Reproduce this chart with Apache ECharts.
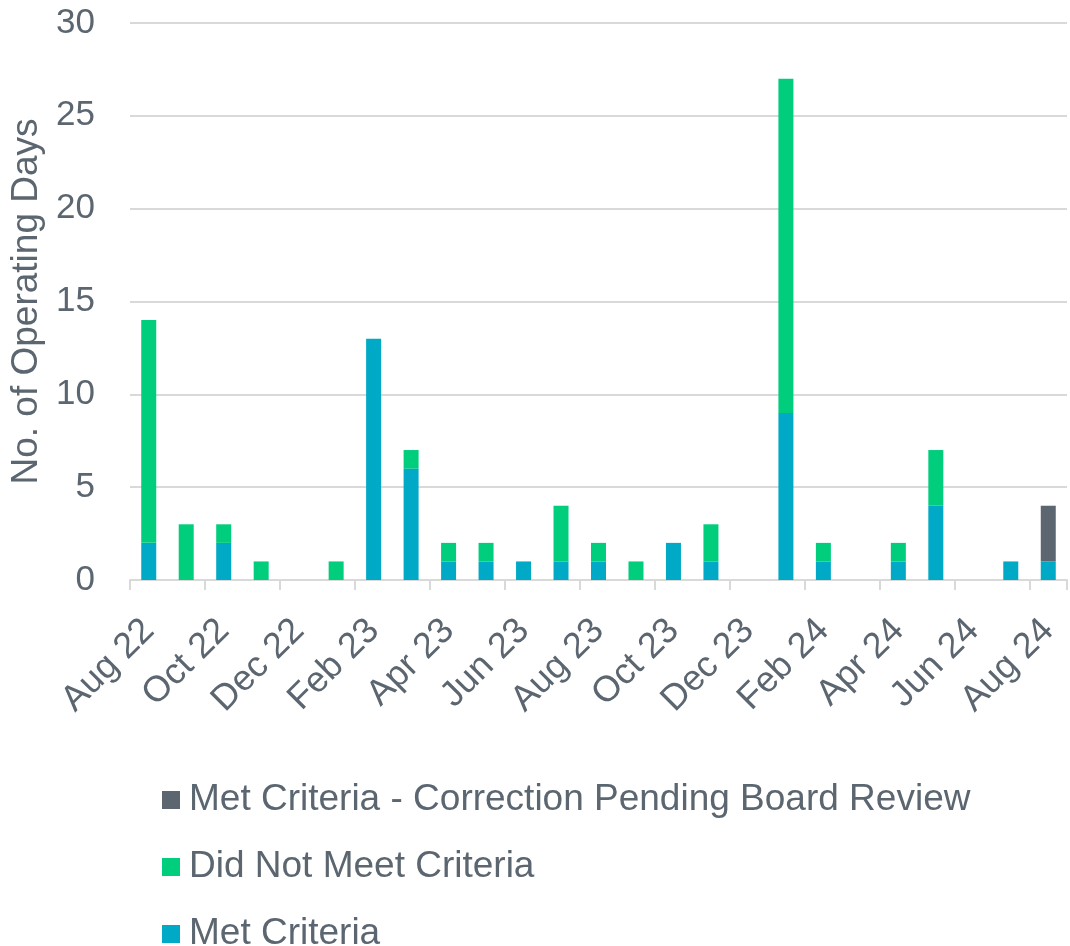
<!DOCTYPE html>
<html>
<head>
<meta charset="utf-8">
<title>Operating Days</title>
<script src="https://cdn.jsdelivr.net/npm/echarts@6/dist/echarts.min.js"></script>
<style>
  html, body { margin: 0; padding: 0; background: #fff; }
  #chart { width: 1070px; height: 946px; }
</style>
</head>
<body>
<div id="chart"></div>
<script>
// one bar per month
const months = ['Aug 22', 'Sep 22', 'Oct 22', 'Nov 22', 'Dec 22', 'Jan 23', 'Feb 23', 'Mar 23', 'Apr 23',
  'May 23', 'Jun 23', 'Jul 23', 'Aug 23', 'Sep 23', 'Oct 23', 'Nov 23', 'Dec 23', 'Jan 24', 'Feb 24',
  'Mar 24', 'Apr 24', 'May 24', 'Jun 24', 'Jul 24', 'Aug 24']

const metCriteria = [2, 0, 2, 0, 0, 0, 13, 6, 1, 1, 1, 1, 1, 0, 2, 1, 0, 9, 1, 0, 1, 4, 0, 1, 1]
const didNotMeet = [12, 3, 1, 1, 0, 1, 0, 1, 1, 1, 0, 3, 1, 1, 0, 2, 0, 18, 1, 0, 1, 3, 0, 0, 0]
const pendingReview = [0, 0, 0, 0, 0, 0, 0, 0, 0, 0, 0, 0, 0, 0, 0, 0, 0, 0, 0, 0, 0, 0, 0, 0, 3]

const textColor = '#5b6670'
const lineColor = '#d9d9d9'
const font = '"Liberation Sans", Arial, sans-serif'

const chart = echarts.init(document.getElementById('chart'))

chart.setOption({
  textStyle: { fontFamily: font, color: textColor },
  grid: { left: 130, right: 3, top: 23, bottom: 366, containLabel: false },
  legend: {
    orient: 'vertical',
    left: 162,
    top: 780,
    height: 220,
    padding: 0,
    itemWidth: 18,
    itemHeight: 18,
    itemGap: 27,
    icon: 'rect',
    data: ['Met Criteria - Correction Pending Board Review', 'Did Not Meet Criteria', 'Met Criteria'],
    textStyle: { fontSize: 37, lineHeight: 40, color: textColor, fontFamily: font, padding: [0, 0, 0, 4] }
  },
  xAxis: {
    type: 'category',
    data: months,
    boundaryGap: true,
    axisLine: { lineStyle: { color: lineColor, width: 2 } },
    axisTick: { show: true, interval: 1, length: 10, lineStyle: { color: lineColor, width: 2 } },
    axisLabel: {
      interval: 1,
      rotate: 45,
      margin: 45,
      fontSize: 36,
      color: textColor,
      fontFamily: font
    }
  },
  yAxis: {
    type: 'value',
    min: 0,
    max: 30,
    interval: 5,
    name: 'No. of Operating Days',
    nameLocation: 'middle',
    nameGap: 76,
    nameTextStyle: { fontSize: 37, color: textColor, fontFamily: font },
    axisLine: { show: false },
    axisTick: { show: false },
    axisLabel: { fontSize: 35, color: textColor, margin: 35, fontFamily: font },
    splitLine: { lineStyle: { color: lineColor, width: 2 } }
  },
  series: [
    {
      name: 'Met Criteria',
      type: 'bar',
      stack: 'days',
      barWidth: 15,
      itemStyle: { color: '#00a9c6' },
      data: metCriteria
    },
    {
      name: 'Did Not Meet Criteria',
      type: 'bar',
      stack: 'days',
      barWidth: 15,
      itemStyle: { color: '#00ce7c' },
      data: didNotMeet
    },
    {
      name: 'Met Criteria - Correction Pending Board Review',
      type: 'bar',
      stack: 'days',
      barWidth: 15,
      itemStyle: { color: '#5b6670' },
      data: pendingReview
    }
  ]
})
</script>
</body>
</html>
